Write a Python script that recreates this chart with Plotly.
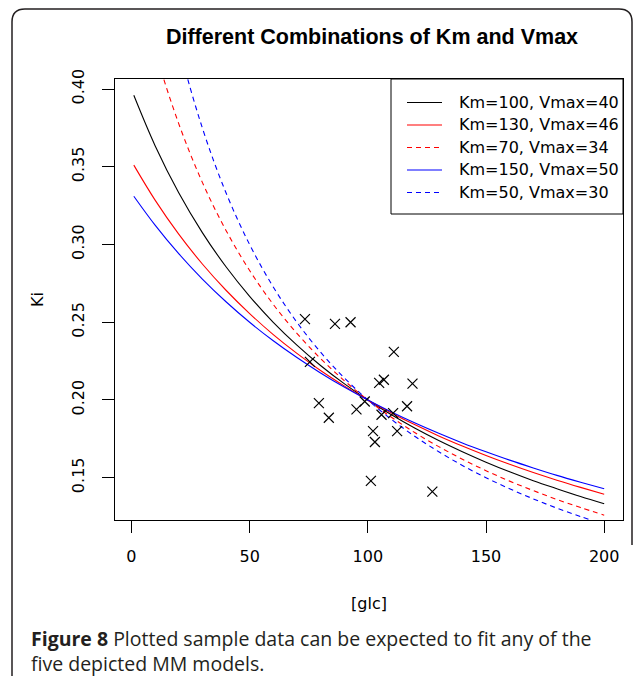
import plotly.graph_objects as go

# ---------------- data ----------------
glc = [1, 10, 20, 30, 40, 50, 60, 70, 80, 90, 100, 110, 120, 130, 140, 150, 160, 170, 180, 190, 200]

ki_km100_v40 = [0.3960, 0.3636, 0.3333, 0.3077, 0.2857, 0.2667, 0.2500, 0.2353, 0.2222, 0.2105, 0.2000,
                0.1905, 0.1818, 0.1739, 0.1667, 0.1600, 0.1538, 0.1481, 0.1429, 0.1379, 0.1333]
ki_km130_v46 = [0.3511, 0.3286, 0.3067, 0.2875, 0.2706, 0.2556, 0.2421, 0.2300, 0.2190, 0.2091, 0.2000,
                0.1917, 0.1840, 0.1769, 0.1704, 0.1643, 0.1586, 0.1533, 0.1484, 0.1438, 0.1394]
ki_km70_v34 = [0.4789, 0.4250, 0.3778, 0.3400, 0.3091, 0.2833, 0.2615, 0.2429, 0.2267, 0.2125, 0.2000,
               0.1889, 0.1789, 0.1700, 0.1619, 0.1545, 0.1478, 0.1417, 0.1360, 0.1308, 0.1259]
ki_km150_v50 = [0.3311, 0.3125, 0.2941, 0.2778, 0.2632, 0.2500, 0.2381, 0.2273, 0.2174, 0.2083, 0.2000,
                0.1923, 0.1852, 0.1786, 0.1724, 0.1667, 0.1613, 0.1563, 0.1515, 0.1471, 0.1429]
ki_km50_v30 = [0.5882, 0.5000, 0.4286, 0.3750, 0.3333, 0.3000, 0.2727, 0.2500, 0.2308, 0.2143, 0.2000,
               0.1875, 0.1765, 0.1667, 0.1579, 0.1500, 0.1429, 0.1364, 0.1304, 0.1250, 0.1200]

series_names = ["Km=100, Vmax=40", "Km=130, Vmax=46", "Km=70, Vmax=34",
                "Km=150, Vmax=50", "Km=50, Vmax=30"]
series_values = [ki_km100_v40, ki_km130_v46, ki_km70_v34, ki_km150_v50, ki_km50_v30]

sample_glc = [73.4, 86.1, 92.7, 111.0, 75.5, 104.8, 106.8, 118.9, 79.3, 83.5,
              95.2, 98.7, 105.8, 110.7, 116.6, 102.2, 103.0, 112.4, 101.3, 127.3]
sample_ki = [0.252, 0.249, 0.250, 0.231, 0.2245, 0.211, 0.213, 0.2105, 0.198, 0.1886,
             0.194, 0.199, 0.1905, 0.1915, 0.196, 0.180, 0.173, 0.180, 0.148, 0.141]

x_ticks = [0, 50, 100, 150, 200]
y_ticks = [0.15, 0.20, 0.25, 0.30, 0.35, 0.40]

title_text = "Different Combinations of Km and Vmax"
x_title = "[glc]"
y_title = "Ki"
caption_bold = "Figure 8"
caption_line1 = " Plotted sample data can be expected to fit any of the"
caption_line2 = "five depicted MM models."

# ---------------- styling ----------------
colors = ["black", "#ff0000", "#ff0000", "#0000ff", "#0000ff"]
dashes = ["solid", "solid", "5px,4px", "solid", "5px,4px"]
FONT = "DejaVu Sans"

W, H = 634, 676
L, R, T, B = 115, 623, 79, 520


def px(x):
    return (x - L) / (R - L)


def py(y):
    return (B - y) / (B - T)


fig = go.Figure()
for name, vals, c, d in zip(series_names, series_values, colors, dashes):
    fig.add_trace(go.Scatter(x=glc, y=vals, mode="lines", name=name,
                             line=dict(color=c, width=1.1, dash=d, shape="spline", smoothing=1),
                             showlegend=False, hoverinfo="skip"))

fig.add_trace(go.Scatter(x=sample_glc, y=sample_ki, mode="markers", showlegend=False,
                         marker=dict(symbol="x-thin", size=10, color="black",
                                     line=dict(color="black", width=1.2))))

xr = [min(glc) - 0.04 * (max(glc) - min(glc)), max(glc) + 0.04 * (max(glc) - min(glc))]
ymin, ymax = min(ki_km100_v40), max(ki_km100_v40)
yr = [ymin - 0.04 * (ymax - ymin), ymax + 0.04 * (ymax - ymin)]

axis_common = dict(showgrid=False, zeroline=False, showline=True, linecolor="black",
                   linewidth=1, mirror=True, ticks="outside", ticklen=12, tickwidth=1,
                   tickcolor="black", tickfont=dict(family=FONT, size=16, color="black"))

fig.update_layout(
    width=W, height=H,
    margin=dict(l=L, r=W - R, t=T, b=H - B),
    paper_bgcolor="white", plot_bgcolor="white",
    xaxis=dict(range=xr, tickvals=x_ticks, ticklabelstandoff=10,
               title=dict(text=x_title, font=dict(family=FONT, size=16, color="black"), standoff=32),
               **axis_common),
    yaxis=dict(range=yr, tickvals=y_ticks, tickformat=".2f", tickangle=-90, ticklabelstandoff=12,
               title=dict(text=y_title, font=dict(family=FONT, size=16, color="black"), standoff=20),
               **axis_common),
    title=dict(text="<b>" + title_text + "</b>", xref="paper", x=px(372), xanchor="center",
               yref="container", y=1 - 36 / H, yanchor="middle",
               font=dict(family="Liberation Sans", size=21.5, color="black")),
)

shapes = []
# manual legend box
shapes.append(dict(type="rect", xref="paper", yref="paper", x0=px(391), x1=px(623),
                   y0=py(214), y1=py(79), line=dict(color="black", width=1),
                   fillcolor="white", layer="above"))
annotations = []
row_y = [102, 124.5, 147, 169.5, 192]
for name, c, d, ry in zip(series_names, colors, dashes, row_y):
    shapes.append(dict(type="line", xref="paper", yref="paper", x0=px(407), x1=px(442),
                       y0=py(ry + 0.5), y1=py(ry + 0.5), line=dict(color=c, width=1.2, dash=d),
                       layer="above"))
    annotations.append(dict(xref="paper", yref="paper", x=px(457), y=py(ry), text=name,
                            showarrow=False, xanchor="left", yanchor="middle",
                            font=dict(family=FONT, size=16, color="black")))

# outer figure frame (rounded corners)
frame = (f"M {px(12)},{py(676)} L {px(12)},{py(22)} Q {px(12)},{py(9)} {px(25)},{py(9)} "
         f"L {px(619)},{py(9)} Q {px(632)},{py(9)} {px(632)},{py(22)} L {px(632)},{py(545)}")
shapes.append(dict(type="path", xref="paper", yref="paper", path=frame,
                   line=dict(color="#231f20", width=1.5)))

annotations.append(dict(xref="paper", yref="paper", x=px(29), y=py(638),
                        text="<b>" + caption_bold + "</b>" + caption_line1, showarrow=False,
                        xanchor="left", yanchor="middle",
                        font=dict(family="Open Sans", size=19.5, color="#231f20")))
annotations.append(dict(xref="paper", yref="paper", x=px(29), y=py(663),
                        text=caption_line2, showarrow=False,
                        xanchor="left", yanchor="middle",
                        font=dict(family="Open Sans", size=19.5, color="#231f20")))

fig.update_layout(shapes=shapes, annotations=annotations)
fig.write_html("out.html", config={"displayModeBar": False},
               post_script="document.body.style.margin='0';document.body.style.overflow='hidden';")
